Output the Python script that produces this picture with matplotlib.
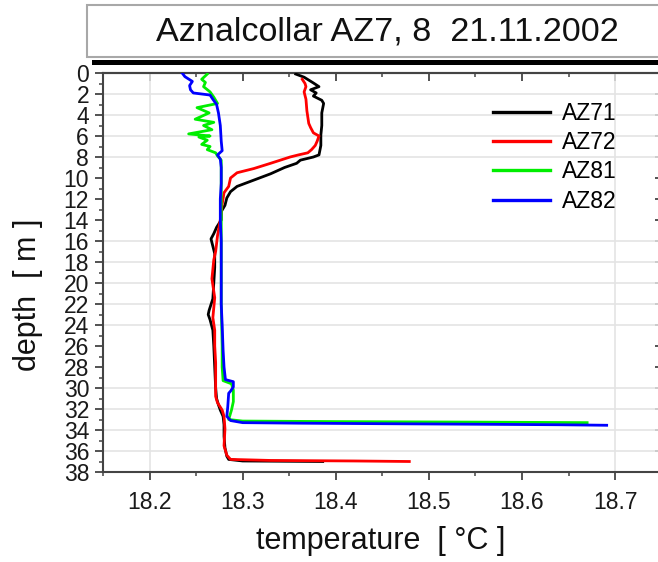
import matplotlib
matplotlib.use("Agg")
import matplotlib.pyplot as plt
from matplotlib.patches import Rectangle
from matplotlib.ticker import MultipleLocator, FixedLocator

plt.rcParams['font.family'] = ['Liberation Sans', 'DejaVu Sans']

title = "Aznalcollar AZ7, 8  21.11.2002"
series_names = ["AZ71", "AZ72", "AZ81", "AZ82"]
series_colors = ["#000000", "#ff0000", "#00ee00", "#0000ff"]

az71_depth = [0.1, 0.4, 0.95, 1.3, 1.6, 1.9, 2.2, 2.6, 2.9, 3.8, 5.0, 5.9, 6.9, 7.8, 8.0, 8.3, 8.6, 9.0,
              9.6, 10.2, 10.8, 11.3, 11.9, 12.6, 13.2, 14.0, 14.7, 15.3, 15.8, 16.5, 17.2, 18.5, 20, 21.5,
              22.6, 23.0, 23.5, 24.5, 26, 28, 30, 31.0, 31.6, 32.1, 32.7, 33.5, 34.6, 35.7, 36.5, 36.8,
              36.95, 37.0]
az71_temp = [18.357, 18.366, 18.376, 18.382, 18.373, 18.379, 18.376, 18.385, 18.387, 18.385, 18.385,
             18.384, 18.384, 18.382, 18.376, 18.362, 18.358, 18.345, 18.330, 18.312, 18.294, 18.287,
             18.283, 18.281, 18.277, 18.277, 18.272, 18.269, 18.266, 18.268, 18.270, 18.270, 18.269,
             18.268, 18.264, 18.263, 18.265, 18.268, 18.269, 18.270, 18.271, 18.272, 18.274, 18.276,
             18.279, 18.280, 18.280, 18.281, 18.283, 18.285, 18.300, 18.386]

az72_depth = [0.6, 1.0, 1.3, 1.8, 2.5, 3.6, 4.8, 5.2, 5.7, 6.0, 6.5, 6.9, 7.3, 7.6, 7.8, 8.0, 8.6, 9.1,
              9.5, 10.0, 10.8, 11.4, 12.5, 14, 15.5, 17, 17.8, 19.6, 21.4, 23.3, 24.5, 26, 27.6, 29,
              30.8, 31.4, 32.1, 32.7, 33.9, 35.5, 36.4, 36.8, 36.9, 36.95, 37.0]
az72_temp = [18.364, 18.367, 18.368, 18.366, 18.368, 18.369, 18.371, 18.373, 18.376, 18.382, 18.380,
             18.378, 18.374, 18.370, 18.360, 18.351, 18.330, 18.312, 18.294, 18.287, 18.285, 18.280,
             18.278, 18.276, 18.273, 18.271, 18.269, 18.267, 18.270, 18.268, 18.270, 18.270, 18.271,
             18.271, 18.271, 18.273, 18.278, 18.280, 18.281, 18.280, 18.283, 18.287, 18.330, 18.420,
             18.479]

az81_depth = [0.1, 0.6, 0.9, 1.3, 1.8, 2.3, 2.9, 3.3, 3.8, 4.4, 4.7, 5.0, 5.4, 5.8, 6.0, 6.1, 6.4, 6.8,
              7.0, 7.3, 7.6, 7.9, 8.3, 10, 14, 18, 22, 26, 28, 29.3, 29.6, 30.2, 31.3, 32.1, 33.0,
              33.15, 33.2, 33.25, 33.3]
az81_temp = [18.262, 18.256, 18.260, 18.258, 18.265, 18.269, 18.273, 18.251, 18.264, 18.249, 18.269,
             18.258, 18.267, 18.242, 18.265, 18.253, 18.262, 18.256, 18.265, 18.262, 18.271, 18.273,
             18.277, 18.277, 18.277, 18.277, 18.277, 18.278, 18.278, 18.279, 18.288, 18.290, 18.290,
             18.288, 18.285, 18.300, 18.400, 18.550, 18.670]

az82_depth = [0, 0.35, 0.8, 1.2, 1.6, 1.9, 2.1, 2.5, 3.0, 3.8, 5.0, 6.5, 7.4, 7.8, 8.2, 9.0, 10.5, 12.0,
              14, 16, 18, 20, 22, 24, 26.4, 28, 29.2, 29.4, 29.9, 30.3, 30.5, 31.8, 32.7, 33.1, 33.3,
              33.35, 33.4, 33.45, 33.5, 33.55]
az82_temp = [18.235, 18.238, 18.246, 18.243, 18.244, 18.247, 18.265, 18.268, 18.272, 18.274, 18.276,
             18.277, 18.278, 18.273, 18.276, 18.277, 18.277, 18.276, 18.276, 18.277, 18.277, 18.277,
             18.277, 18.278, 18.279, 18.280, 18.2815, 18.290, 18.290, 18.287, 18.285, 18.284, 18.283,
             18.287, 18.300, 18.360, 18.450, 18.550, 18.640, 18.691]

depth_ticks = list(range(0, 40, 2))
temp_ticks = [18.2, 18.3, 18.4, 18.5, 18.6, 18.7]
grid_depths = [2, 4, 6, 8, 16, 18, 20, 22, 24, 30, 32, 34, 36]
grid_temps = [18.2, 18.7]

W, H = 658, 562
fig = plt.figure(figsize=(W / 100, H / 100), dpi=100)

# title box
fig.patches.append(Rectangle((92 / W, 1 - 65 / H), 1.0, 5 / H, transform=fig.transFigure,
                             facecolor='black', edgecolor='none', zorder=1))
fig.patches.append(Rectangle((87 / W, 1 - 57 / H), 1.0, 52 / H, transform=fig.transFigure,
                             facecolor='white', edgecolor='#a8a8a8', linewidth=1.5, zorder=2))
fig.text(156 / W, 1 - 32 / H, title, ha='left', va='center', fontsize=24.6, color='#111111', zorder=3)

ax = fig.add_axes([103 / W, 1 - 472 / H, (661.6 - 103) / W, (472 - 73) / H])

series = [(az71_temp, az71_depth), (az72_temp, az72_depth), (az81_temp, az81_depth), (az82_temp, az82_depth)]
for (t, d), name, c in zip(series, series_names, series_colors):
    ax.plot(t, d, color=c, lw=2.0, label=name, zorder=3)

for g in grid_depths:
    ax.axhline(g, color='#e4e4e4', lw=1.2, zorder=1)
for g in grid_temps:
    ax.axvline(g, color='#e4e4e4', lw=1.2, zorder=1)

ax.set_xlim(18.15, 18.75)
ax.set_ylim(38, 0)
ax.yaxis.set_major_locator(FixedLocator(depth_ticks))
ax.yaxis.set_minor_locator(MultipleLocator(1))
ax.xaxis.set_major_locator(FixedLocator(temp_ticks))
ax.xaxis.set_minor_locator(MultipleLocator(0.05))
ax.set_yticklabels([str(v) for v in depth_ticks])
ax.set_xticklabels([f"{v:.1f}" for v in temp_ticks])

for s in ax.spines.values():
    s.set_color('#444444')
    s.set_linewidth(1.5)

ax.tick_params(axis='both', which='major', length=6, width=1.3, color='#444444', labelsize=16.5,
               labelcolor='#1a1a1a')
ax.tick_params(axis='both', which='minor', length=3, width=1.1, color='#444444')
ax.tick_params(axis='y', which='both', left=True, right=False, direction='out', pad=4)
ax.tick_params(axis='x', which='both', bottom=True, top=False, direction='out', pad=8)

sec_x = ax.secondary_xaxis('top')
sec_x.set_xticks(temp_ticks)
sec_x.xaxis.set_minor_locator(MultipleLocator(0.05))
sec_x.tick_params(which='major', direction='in', length=6, width=1.3, color='#444444', labeltop=False)
sec_x.tick_params(which='minor', direction='in', length=3, width=1.1, color='#444444')
sec_x.spines['top'].set_color('#444444')
sec_x.spines['top'].set_linewidth(1.5)
sec_y = ax.secondary_yaxis('right')
sec_y.set_yticks(depth_ticks)
sec_y.yaxis.set_minor_locator(MultipleLocator(1))
sec_y.tick_params(which='major', direction='in', length=5, width=1.3, color='#444444', labelright=False)
sec_y.tick_params(which='minor', direction='in', length=3, width=1.1, color='#444444')

fig.text(381 / W, 1 - 541 / H, "temperature  [ °C ]", ha='center', va='center', fontsize=22, color='#111111')
fig.text(28 / W, 1 - 295 / H, "depth  [ m ]", ha='center', va='center', rotation=90, fontsize=22,
         color='#111111')

leg = ax.legend(loc='upper left', bbox_to_anchor=(493 / W, 1 - 102 / H), bbox_transform=fig.transFigure,
                frameon=False, fontsize=16.5, handlelength=2.5, handletextpad=0.52, labelspacing=0.27,
                borderpad=0, borderaxespad=0)
for h in leg.get_lines():
    h.set_linewidth(2.4)

fig.savefig("out.png", dpi=100)
